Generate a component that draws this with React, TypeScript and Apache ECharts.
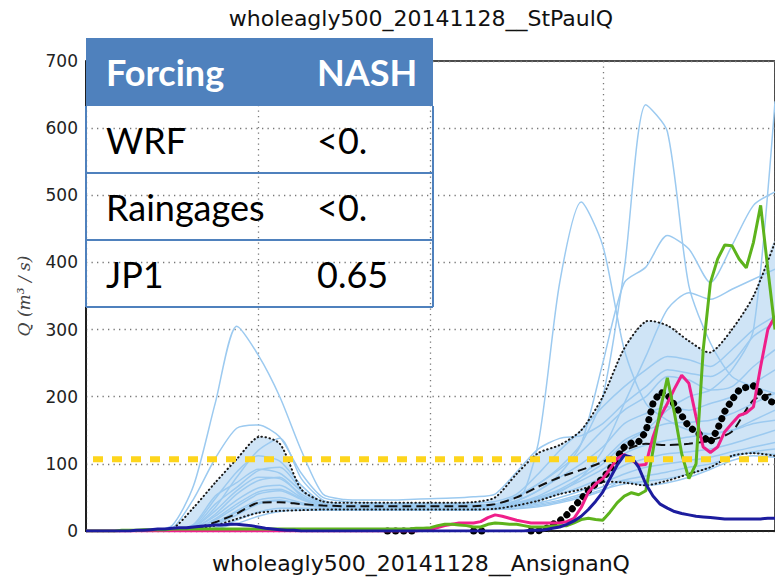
import React, { useEffect, useRef } from "react";
import * as echarts from "echarts";

const TITLE = "wholeagly500_20141128__StPaulQ";
const X_TITLE = "wholeagly500_20141128__AnsignanQ";
const Y_TITLE = "Q (m³ / s)";

const TABLE_HEADER = ["Forcing", "NASH"];
const TABLE_ROWS = [
  ["WRF", "<0."],
  ["Raingages", "<0."],
  ["JP1", "0.65"],
];

const Y_MIN = 0;
const Y_MAX = 700;
const Y_STEP = 100;
const X_MIN = 0;
const X_MAX = 96;
const X_STEP = 24;

const THRESHOLD = 107;

// ensemble time axis (hours, 3-hourly)
const HOURS_3 = [0, 3, 6, 9, 12, 15, 18, 21, 24, 27, 30, 33, 36, 39, 42, 45, 48, 51, 54, 57, 60, 63, 66, 69, 72, 75, 78, 81, 84, 87, 90, 93, 96];

// hourly time axis
const HOURS_1 = [
  0, 1, 2, 3, 4, 5, 6, 7, 8, 9, 10, 11, 12, 13, 14, 15, 16, 17, 18, 19, 20, 21, 22, 23,
  24, 25, 26, 27, 28, 29, 30, 31, 32, 33, 34, 35, 36, 37, 38, 39, 40, 41, 42, 43, 44, 45, 46, 47,
  48, 49, 50, 51, 52, 53, 54, 55, 56, 57, 58, 59, 60, 61, 62, 63, 64, 65, 66, 67, 68, 69, 70, 71,
  72, 73, 74, 75, 76, 77, 78, 79, 80, 81, 82, 83, 84, 85, 86, 87, 88, 89, 90, 91, 92, 93, 94, 95, 96,
];

// ensemble members (3-hourly)
const M1 = [0, 0, 0, 1, 8, 68, 190, 305, 262, 200, 120, 55, 47, 46, 46, 47, 48, 49, 51, 55, 88, 122, 138, 142, 160, 190, 215, 240, 235, 230, 250, 290, 310];
const M2 = [0, 0, 0, 0, 4, 48, 108, 153, 158, 140, 86, 50, 44, 42, 41, 41, 41, 41, 42, 44, 55, 85, 120, 150, 185, 215, 240, 260, 255, 245, 270, 300, 320];
const M3 = [0, 0, 0, 0, 1, 6, 35, 80, 120, 138, 78, 46, 40, 39, 39, 39, 39, 39, 39, 40, 52, 70, 92, 118, 150, 180, 200, 230, 225, 210, 215, 245, 270];
const M4 = [0, 0, 0, 0, 1, 8, 48, 88, 112, 104, 68, 42, 38, 38, 38, 38, 38, 38, 38, 39, 45, 60, 80, 100, 125, 160, 175, 185, 180, 190, 200, 220, 240];
const M5 = [0, 0, 0, 0, 1, 10, 52, 72, 92, 86, 60, 40, 37, 37, 37, 37, 37, 37, 37, 38, 42, 52, 68, 85, 105, 135, 150, 160, 162, 165, 175, 190, 205];
const M6 = [0, 0, 0, 0, 0, 4, 22, 46, 64, 68, 50, 38, 36, 36, 36, 36, 36, 36, 36, 37, 40, 48, 60, 75, 92, 115, 128, 135, 140, 145, 150, 165, 180];
const M7 = [0, 0, 0, 0, 0, 3, 16, 36, 55, 60, 47, 37, 35, 35, 35, 35, 35, 35, 35, 36, 38, 45, 55, 66, 80, 98, 108, 115, 118, 122, 130, 140, 150];
const M8 = [0, 0, 0, 0, 0, 2, 12, 30, 46, 50, 42, 36, 34, 34, 34, 34, 34, 34, 34, 35, 37, 42, 50, 60, 72, 85, 95, 100, 105, 110, 118, 125, 132];
const M9 = [0, 0, 0, 0, 0, 2, 9, 24, 40, 45, 40, 35, 33, 33, 33, 33, 33, 33, 33, 34, 36, 40, 46, 55, 66, 76, 82, 88, 95, 100, 110, 118, 122];
const M10 = [0, 0, 0, 0, 0, 0, 5, 16, 28, 34, 34, 33, 32, 32, 32, 32, 32, 32, 32, 33, 34, 38, 44, 52, 62, 70, 74, 78, 85, 95, 112, 116, 114];
const M11 = [0, 0, 0, 0, 0, 0, 3, 11, 22, 29, 31, 31, 31, 31, 31, 31, 31, 31, 31, 32, 33, 36, 42, 50, 60, 75, 68, 72, 80, 92, 105, 112, 110];
const M12 = [0, 0, 0, 0, 1, 5, 30, 60, 80, 78, 55, 40, 38, 38, 38, 38, 38, 38, 38, 40, 42, 130, 370, 490, 425, 270, 190, 165, 150, 145, 150, 160, 165];
const M13 = [0, 0, 0, 0, 1, 6, 40, 65, 90, 95, 62, 40, 36, 36, 36, 36, 36, 36, 37, 38, 50, 70, 95, 130, 200, 390, 635, 595, 365, 280, 230, 215, 205];
const M14 = [0, 0, 0, 0, 0, 4, 25, 55, 75, 80, 52, 38, 35, 35, 35, 35, 35, 35, 35, 37, 45, 60, 85, 130, 250, 370, 393, 440, 420, 370, 425, 485, 505];
const M15 = [0, 0, 0, 0, 0, 3, 18, 40, 58, 62, 48, 37, 35, 35, 35, 35, 35, 35, 35, 36, 40, 50, 62, 80, 100, 130, 150, 180, 200, 210, 240, 300, 640];
const M16 = [0, 0, 0, 0, 0, 2, 10, 28, 42, 46, 40, 35, 34, 34, 34, 34, 34, 34, 34, 35, 38, 46, 58, 80, 120, 190, 260, 330, 355, 345, 360, 375, 390];
const MEMBERS = [M1, M2, M3, M4, M5, M6, M7, M8, M9, M10, M11, M12, M13, M14, M15, M16];

// ensemble envelope and median (3-hourly)
const UPPER = [0, 0, 0, 1, 3, 35, 72, 107, 140, 130, 62, 44, 42, 42, 42, 42, 42, 42, 43, 50, 85, 116, 128, 150, 200, 272, 312, 306, 283, 266, 300, 350, 430];
const LOWER = [0, 0, 0, 0, 0, 2, 8, 18, 27, 30, 31, 32, 32, 32, 32, 32, 32, 32, 32, 33, 38, 45, 55, 62, 73, 72, 68, 75, 85, 95, 112, 116, 112];
const MEDIAN = [0, 0, 0, 0, 1, 3, 13, 26, 42, 43, 40, 38, 37, 37, 37, 37, 37, 37, 37, 40, 50, 66, 80, 91, 103, 120, 130, 128, 130, 135, 148, 195, 205];

// hourly simulations
const SIM_BLUE = [
  0, 0, 0, 0, 0, 0, 0, 1, 1, 2, 3, 3,
  4, 5, 5, 6, 7, 8, 9, 9, 10, 10, 9, 8,
  6, 4, 3, 2, 1, 1, 0, 0, 0, 0, 0, 0,
  0, 0, 0, 0, 0, 0, 0, 0, 0, 0, 0, 0,
  0, 0, 0, 0, 0, 0, 0, 0, 0, 0, 0, 0,
  0, 0, 1, 1, 2, 4, 6, 10, 15, 22, 32, 44,
  58, 78, 98, 113, 110, 95, 70, 52, 40, 34, 29, 26,
  24, 22, 21, 20, 19, 18, 18, 18, 18, 18, 18, 19,
  19,
];
const SIM_PINK = [
  0, 0, 0, 0, 0, 0, 0, 0, 0, 0, 0, 0,
  0, 0, 0, 0, 0, 0, 0, 0, 0, 0, 0, 0,
  0, 0, 0, 0, 0, 0, 0, 0, 0, 0, 0, 0,
  0, 0, 0, 0, 0, 0, 0, 0, 0, 0, 0, 1,
  2, 5, 8, 10, 12, 12, 12, 14, 20, 24, 22, 19,
  16, 14, 12, 12, 12, 12, 12, 14, 19, 35, 58, 70,
  78, 92, 108, 114, 106, 98, 99, 140, 170, 190, 212, 232,
  220, 170, 125, 117, 125, 148, 160, 172, 176, 185, 245, 300,
  320,
];
const SIM_GREEN = [
  0, 0, 0, 0, 0, 1, 1, 1, 2, 2, 2, 2,
  3, 3, 3, 3, 3, 3, 3, 3, 3, 3, 3, 3,
  3, 3, 3, 3, 3, 3, 3, 3, 3, 3, 3, 3,
  3, 3, 3, 3, 3, 3, 3, 3, 3, 3, 4, 4,
  5, 8, 10, 10, 9, 8, 6, 6, 10, 12, 11, 10,
  10, 8, 6, 6, 6, 7, 8, 8, 12, 17, 19, 17,
  16, 28, 42, 52, 57, 54, 60, 120, 180, 228, 175, 115,
  78, 100, 270, 370, 405, 426, 425, 405, 392, 430, 485, 390,
  300,
];
// observed discharge (hourly)
const OBSERVED = [
  null, null, null, null, null, null, null, null, null, null, null, null,
  null, null, null, null, null, null, null, null, null, null, null, null,
  null, null, null, null, null, null, null, null, null, null, null, null,
  null, null, null, null, null, null, 0, 0, 0, 0, 0, null,
  null, null, null, null, null, null, 0, 0, 0, null, null, null,
  null, null, 0, 0, 3, 10, 15, 24, 36, 48, 60, 70,
  78, 92, 110, 125, 131, 133, 148, 190, 207, 203, 188, 172,
  155, 148, 140, 132, 152, 178, 195, 210, 214, 216, 205, 195,
  190,
];
const THRESHOLD_X = [0, 96];

const pairs = (xs: number[], ys: (number | null)[]) => xs.map((x, i) => [x, ys[i]]);

export default function App() {
  const ref = useRef<HTMLDivElement>(null);

  useEffect(() => {
    if (!ref.current) return;
    const chart = echarts.init(ref.current, undefined, { renderer: "svg" });

    const series: any[] = [];
    const SMOOTH = 0.25;

    // band fill between quantiles
    series.push({
      type: "custom",
      data: [0],
      silent: true,
      z: 1,
      renderItem: (_params: any, api: any) => {
        const up = HOURS_3.map((h, i) => api.coord([h, UPPER[i]]));
        const lo = HOURS_3.map((h, i) => api.coord([h, LOWER[i]])).reverse();
        return {
          type: "polygon",
          shape: { points: up.concat(lo), smooth: SMOOTH },
          style: { fill: "#cfe4f6", stroke: null },
        };
      },
    });

    MEMBERS.forEach((m) => {
      series.push({
        type: "line",
        data: pairs(HOURS_3, m),
        symbol: "none",
        smooth: SMOOTH,
        lineStyle: { color: "#9ccaf0", width: 1.5 },
        silent: true,
        z: 2,
      });
    });

    // dotted quantile edges
    series.push({
      type: "custom",
      data: [0],
      silent: true,
      z: 3,
      renderItem: (_params: any, api: any) => {
        const edge = (vals: number[]) => ({
          type: "polyline",
          shape: { points: HOURS_3.map((h, i) => api.coord([h, vals[i]])), smooth: SMOOTH },
          style: { stroke: "#1a1a1a", lineWidth: 2, lineDash: [0.5, 3.5], lineCap: "round", fill: null },
        });
        return { type: "group", children: [edge(UPPER), edge(LOWER)] };
      },
    });

    series.push({
      type: "line",
      data: pairs(HOURS_3, MEDIAN),
      symbol: "none",
      smooth: SMOOTH,
      lineStyle: { color: "#111", width: 2, type: [9, 5] },
      silent: true,
      z: 3,
    });

    series.push({
      type: "line",
      data: pairs(HOURS_1, OBSERVED),
      symbol: "none",
      connectNulls: false,
      clip: false,
      lineStyle: { color: "#000", width: 7, type: [0.1, 8], cap: "round" },
      silent: true,
      z: 4,
    });

    series.push({
      type: "line",
      data: pairs(HOURS_1, SIM_PINK),
      symbol: "none",
      lineStyle: { color: "#ef1f8a", width: 3 },
      silent: true,
      z: 5,
    });
    series.push({
      type: "line",
      data: pairs(HOURS_1, SIM_GREEN),
      symbol: "none",
      lineStyle: { color: "#5db31c", width: 3 },
      silent: true,
      z: 5,
    });
    series.push({
      type: "line",
      data: pairs(HOURS_1, SIM_BLUE),
      symbol: "none",
      lineStyle: { color: "#1c1c9e", width: 3 },
      silent: true,
      z: 6,
    });
    series.push({
      type: "line",
      data: pairs(THRESHOLD_X, [THRESHOLD, THRESHOLD]),
      symbol: "none",
      lineStyle: { color: "#fdd51c", width: 6, type: [10, 9], dashOffset: 12 },
      silent: true,
      z: 7,
    });

    const TL = 86;
    const TR = 433;
    const TTOP = 38;
    const HEAD_H = 68;
    const ROW_H = 67;
    const COL2 = 317;
    const TEXT_X = 106;
    const blue = "#4f81bd";

    const graphic: any[] = [];
    graphic.push({
      type: "rect",
      shape: { x: TL, y: TTOP, width: TR - TL, height: HEAD_H },
      style: { fill: blue },
      z: 100,
    });
    TABLE_HEADER.forEach((h, i) => {
      graphic.push({
        type: "text",
        x: i === 0 ? TEXT_X : COL2,
        y: TTOP + HEAD_H / 2,
        style: {
          text: h,
          fill: "#fff",
          fontSize: 36,
          fontWeight: "bold",
          fontFamily: "Lato",
          align: "left",
          verticalAlign: "middle",
        },
        z: 101,
      });
    });
    TABLE_ROWS.forEach((row, r) => {
      const top = TTOP + HEAD_H + r * ROW_H;
      graphic.push({
        type: "line",
        shape: { x1: TL, y1: top + ROW_H, x2: TR, y2: top + ROW_H },
        style: { stroke: blue, lineWidth: 2 },
        z: 100,
      });
      row.forEach((cell, c) => {
        graphic.push({
          type: "text",
          x: c === 0 ? TEXT_X : COL2,
          y: top + ROW_H / 2,
          style: {
            text: cell,
            fill: "#000",
            fontSize: 36,
            fontFamily: "Lato",
            align: "left",
            verticalAlign: "middle",
          },
          z: 101,
        });
      });
    });
    const tableBottom = TTOP + HEAD_H + TABLE_ROWS.length * ROW_H;
    [TL, TR].forEach((x) => {
      graphic.push({
        type: "line",
        shape: { x1: x, y1: TTOP + HEAD_H, x2: x, y2: tableBottom },
        style: { stroke: blue, lineWidth: 2 },
        z: 100,
      });
    });

    graphic.push({
      type: "text",
      x: 421,
      y: 18,
      style: {
        text: TITLE,
        fill: "#111",
        fontSize: 22,
        fontFamily: "DejaVu Sans",
        align: "center",
        verticalAlign: "middle",
      },
      z: 100,
    });
    graphic.push({
      type: "text",
      x: 421,
      y: 563,
      style: {
        text: X_TITLE,
        fill: "#111",
        fontSize: 22,
        fontFamily: "DejaVu Sans",
        align: "center",
        verticalAlign: "middle",
      },
      z: 100,
    });
    graphic.push({
      type: "text",
      x: 24,
      y: 296,
      rotation: Math.PI / 2,
      style: {
        text: Y_TITLE,
        fill: "#444",
        fontSize: 17,
        fontFamily: "DejaVu Serif",
        fontStyle: "italic",
        align: "center",
        verticalAlign: "middle",
      },
      z: 100,
    });

    const gridLine = { color: "#777", width: 1.3, type: [1.3, 4.2] };

    chart.setOption({
      animation: false,
      backgroundColor: "#fff",
      grid: {
        left: 86,
        top: 61,
        width: 693,
        height: 470,
        show: true,
        borderColor: "#111",
        borderWidth: 1.5,
        backgroundColor: "transparent",
      },
      xAxis: {
        type: "value",
        min: X_MIN,
        max: X_MAX,
        interval: X_STEP,
        axisLabel: { show: false },
        axisTick: { show: false },
        axisLine: { show: true, lineStyle: { color: "#111", width: 1.5 } },
        splitLine: { show: true, lineStyle: gridLine },
      },
      yAxis: {
        type: "value",
        min: Y_MIN,
        max: Y_MAX,
        interval: Y_STEP,
        axisLabel: { fontFamily: "DejaVu Sans", fontSize: 17, color: "#222", margin: 8 },
        axisTick: { show: false },
        axisLine: { show: true, lineStyle: { color: "#111", width: 1.5 } },
        splitLine: { show: true, lineStyle: gridLine },
      },
      series,
      graphic,
    });

    return () => chart.dispose();
  }, []);

  return (
    <div
      ref={ref}
      style={{ position: "absolute", left: 0, top: 0, width: 775, height: 578, background: "#fff" }}
    />
  );
}
